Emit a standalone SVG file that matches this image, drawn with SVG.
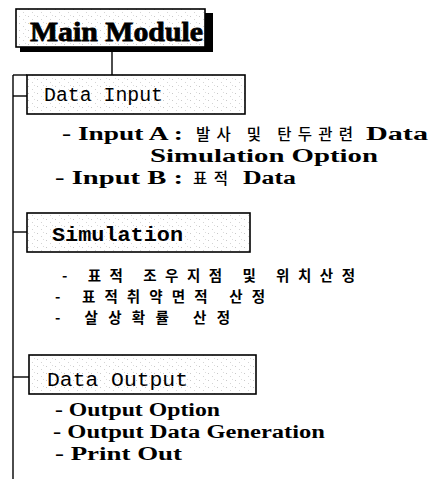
<svg xmlns="http://www.w3.org/2000/svg" width="434" height="479" viewBox="0 0 434 479">
<defs>
<pattern id="speck" width="9" height="7" patternUnits="userSpaceOnUse">
<rect width="9" height="7" fill="#ffffff"/>
<rect x="1" y="2" width="1" height="1" fill="#c8c8c8"/>
<rect x="5" y="5" width="1" height="1" fill="#d4d4d4"/>
<rect x="7" y="1" width="1" height="1" fill="#dcdcdc"/>
</pattern>
<style>
.box{fill:url(#speck);stroke:#000;stroke-width:1.6}
.ln{stroke:#000;stroke-width:1.4;fill:none}
.mono{font-family:"Liberation Mono","DejaVu Sans Mono",monospace;font-size:20px;fill:#000}
.ser{font-family:"Liberation Serif","Noto Sans CJK KR",serif;font-size:18px;font-weight:bold;fill:#000}
.kr{font-family:"Noto Sans CJK KR",sans-serif;font-size:14.5px;font-weight:bold;fill:#000}
.krs{font-family:"Noto Sans CJK KR",sans-serif;font-size:15.5px;font-weight:500;fill:#000}
</style>
</defs>
<rect width="434" height="479" fill="#fff"/>

<g id="connectors">
<line class="ln" x1="112" y1="52" x2="112" y2="75"/>
<line class="ln" x1="13" y1="75" x2="13" y2="479"/>
<line class="ln" x1="13" y1="75" x2="27" y2="75"/>
<line class="ln" x1="13" y1="96" x2="27" y2="96"/>
<line class="ln" x1="13" y1="232" x2="27" y2="232"/>
<line class="ln" x1="13" y1="377" x2="29" y2="377"/>
</g>

<g id="main-module">
<rect x="20" y="13" width="193" height="39" fill="#000"/>
<rect class="box" x="16" y="9" width="189" height="38"/>
<text x="30" y="41" font-family="Liberation Serif, serif" font-size="28" font-weight="bold" stroke="#000" stroke-width="0.8" textLength="173" lengthAdjust="spacingAndGlyphs">Main Module</text>
</g>

<g id="data-input">
<rect class="box" x="27" y="75" width="218" height="39"/>
<text class="mono" x="44" y="101" textLength="119" lengthAdjust="spacingAndGlyphs">Data Input</text>
</g>

<g id="data-input-items">
<text class="ser"><tspan x="62" y="140" textLength="121" lengthAdjust="spacingAndGlyphs">- Input A :</tspan> <tspan class="krs" x="196" y="140" textLength="157" lengthAdjust="spacing">발사 및 탄두관련</tspan> <tspan x="366" y="140" textLength="62" lengthAdjust="spacingAndGlyphs">Data</tspan> <tspan x="150" y="162" textLength="228" lengthAdjust="spacingAndGlyphs">Simulation Option</tspan> <tspan x="55" y="184" textLength="128" lengthAdjust="spacingAndGlyphs">- Input B :</tspan> <tspan class="krs" x="193" y="184" textLength="35" lengthAdjust="spacing">표적</tspan> <tspan x="243" y="184" textLength="53" lengthAdjust="spacingAndGlyphs">Data</tspan></text>
</g>

<g id="simulation">
<rect class="box" x="27" y="213" width="223" height="39"/>
<text class="mono" x="52" y="241" font-weight="bold" textLength="131" lengthAdjust="spacingAndGlyphs">Simulation</text>
</g>

<g id="simulation-items">
<text class="kr"><tspan x="62" y="281" textLength="293" lengthAdjust="spacing">- 표적 조우지점 및 위치산정</tspan> <tspan x="55" y="302" textLength="210" lengthAdjust="spacing">- 표적취약면적 산정</tspan> <tspan x="55" y="323" textLength="175" lengthAdjust="spacing">- 살상확률 산정</tspan></text>
</g>

<g id="data-output">
<rect class="box" x="29" y="355" width="227" height="39"/>
<text class="mono" x="47" y="386" textLength="141" lengthAdjust="spacingAndGlyphs">Data Output</text>
</g>

<g id="data-output-items">
<text class="ser"><tspan x="55" y="416" textLength="165" lengthAdjust="spacingAndGlyphs">- Output Option</tspan> <tspan x="53" y="438" textLength="272" lengthAdjust="spacingAndGlyphs">- Output Data Generation</tspan> <tspan x="55" y="460" textLength="127" lengthAdjust="spacingAndGlyphs">- Print Out</tspan></text>
</g>
</svg>
